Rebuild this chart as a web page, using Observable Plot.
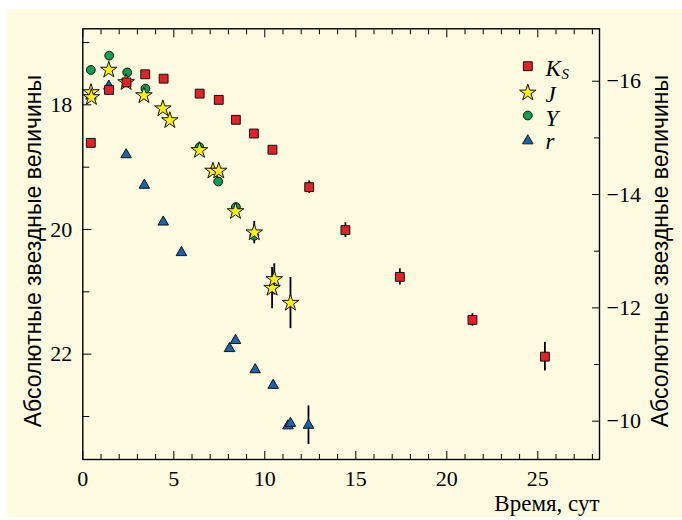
<!DOCTYPE html>
<html><head><meta charset="utf-8">
<script src="https://cdn.jsdelivr.net/npm/d3@7"></script>
<script src="https://cdn.jsdelivr.net/npm/@observablehq/plot@0.6"></script>
<style>
html,body{margin:0;padding:0;background:#fff;}
#wrap{position:relative;width:682px;height:520px;overflow:hidden;}
#bg{position:absolute;left:7px;top:9px;right:0;bottom:3px;background:#fefbe1;}
#chart{position:absolute;left:0;top:0;}
#chart g[aria-label$="tick label"], #chart g[aria-label$="tick label"] text{font-family:'Liberation Serif','Times New Roman',serif !important;font-size:22px !important;}
</style></head><body>
<div id="wrap"><div id="bg"></div><div id="chart"></div></div>
<script>
// ---- data ----
const ksDay = [0.44, 1.44, 2.40, 3.43, 4.44, 6.42, 7.47, 8.41, 9.40, 10.42, 12.44, 14.43, 17.42, 21.41, 25.39];
const ksMag = [18.61, 17.76, 17.64, 17.51, 17.58, 17.82, 17.92, 18.24, 18.46, 18.72, 19.32, 20.01, 20.76, 21.45, 22.04];
const ksErr = [0, 0, 0, 0, 0, 0, 0, 0, 0, 0, 0.10, 0.12, 0.13, 0.10, 0.23];

const jDay = [0.45, 0.47, 1.43, 2.38, 3.36, 4.40, 4.78, 6.41, 7.15, 7.47, 8.39, 9.42, 10.40, 10.52, 11.41];
const jMag = [17.80, 17.88, 17.44, 17.64, 17.85, 18.06, 18.25, 18.73, 19.06, 19.06, 19.71, 20.05, 20.94, 20.80, 21.18];
const jErr = [0, 0, 0, 0, 0, 0, 0, 0, 0, 0, 0, 0.18, 0.33, 0.25, 0.41];

const yDay = [0.44, 1.45, 2.44, 3.44, 6.41, 7.44, 8.41, 9.42];
const yMag = [17.44, 17.21, 17.48, 17.74, 18.68, 19.23, 19.64, 20.10];

const rDay = [1.43, 2.38, 3.38, 4.42, 5.42, 8.06, 8.39, 9.47, 10.46, 11.27, 11.41, 12.40];
const rMag = [17.70, 18.80, 19.29, 19.88, 20.37, 21.91, 21.78, 22.25, 22.50, 23.15, 23.11, 23.14];
const rErr = [0, 0, 0, 0, 0, 0, 0, 0, 0, 0, 0, 0.31];

const seriesNames = ["K", "J", "Y", "r"];
const seriesSub = "S";
const xTitle = "Время, сут";
const yTitle = "Абсолютные звездные величины";

const xMajor = [0, 5, 10, 15, 20, 25];
const xMinor = d3.range(1, 29).filter(d => d % 5 !== 0);
const yMajor = [18, 20, 22];
const yMinor = [17, 19, 21, 23];
const rightMajor = [-16, -14, -12, -10];
const rightMinor = [-15, -13, -11];

const xDomain = [0, 28.39];
const leftDomain = [16.78, 23.69];
const rightDomain = [-16.925, -9.324];

// ---- build ----
const serif = "'Liberation Serif', 'Times New Roman', serif";
const sans = "'Liberation Sans', Arial, sans-serif";
const toLeft = d3.scaleLinear(rightDomain, leftDomain);
const rows = (days, mags, errs) => days.map((d, i) => ({day: d, mag: mags[i], err: errs ? errs[i] : 0}));
const ks = rows(ksDay, ksMag, ksErr);
const jj = rows(jDay, jMag, jErr);
const yy = rows(yDay, yMag);
const rr = rows(rDay, rMag, rErr);
const errs = [...ks, ...jj, ...rr].filter(d => d.err > 0);

const col = {K: "#e42028", J: "#fff200", Y: "#07a050", r: "#1466b3"};
const sym = {K: "square", J: "star", Y: "circle", r: "triangle"};
const rad = {K: 5.0, J: 5.2, Y: 4.4, r: 3.9};
const stroke = "#111";

const dots = (data, k) => Plot.dot(data, {x: "day", y: "mag", symbol: sym[k], r: rad[k], fill: col[k], stroke, strokeWidth: 1});

const legendDy = [37.4, 64, 86.7, 112];
const legendTextDy = [31, 56.5, 80.5, 104];
const legend = seriesNames.flatMap((k, i) => [
  Plot.dot([k], {frameAnchor: "top-right", dx: -71.7, dy: legendDy[i], symbol: sym[k], r: rad[k], fill: col[k], stroke, strokeWidth: 1}),
  Plot.text([k], {frameAnchor: "top-right", dx: -54, dy: legendTextDy[i], text: d => d, textAnchor: "start", lineAnchor: "top", fontSize: 23, fontStyle: "italic", fontFamily: serif, fill: "black"})
]);

const ax = {fontFamily: serif, fontSize: 22, label: null};

const chart = Plot.plot({
  width: 682, height: 520,
  marginLeft: 82.3, marginRight: 83, marginTop: 28.3, marginBottom: 61,
  style: {background: "transparent", fontFamily: serif, overflow: "visible"},
  x: {domain: xDomain, label: null},
  y: {domain: leftDomain, reverse: true, label: null},
  marks: [
    // x axes (bottom with labels, top mirrored)
    Plot.axisX({...ax, ticks: xMinor, anchor: "bottom", tickSize: -5, tickFormat: () => ""}),
    Plot.axisX({...ax, ticks: xMajor, anchor: "bottom", tickSize: -8, tickPadding: 19, tickFormat: d => String(d)}),
    Plot.axisX({...ax, ticks: xMinor, anchor: "top", tickSize: -5, tickFormat: () => ""}),
    Plot.axisX({...ax, ticks: xMajor, anchor: "top", tickSize: -8, tickFormat: () => ""}),
    // left axis
    Plot.axisY({...ax, ticks: yMinor, anchor: "left", tickSize: -7, tickFormat: () => ""}),
    Plot.axisY({...ax, ticks: yMajor, anchor: "left", tickSize: -9, tickPadding: 19.6, tickFormat: d => String(d)}),
    // right axis (different scale)
    Plot.axisY({...ax, ticks: rightMinor.map(toLeft), anchor: "right", tickSize: -6, tickFormat: () => ""}),
    Plot.axisY({...ax, ticks: rightMajor.map(toLeft), anchor: "right", tickSize: -8, tickPadding: 15,
      tickFormat: d => "\u2212" + Math.abs(Math.round(toLeft.invert(d)))}),
    // error bars
    Plot.ruleX(errs, {x: "day", y1: d => d.mag - d.err, y2: d => d.mag + d.err, stroke: "black", strokeWidth: 1.8}),
    // series
    dots(rr, "r"),
    dots(yy, "Y"),
    dots(jj, "J"),
    dots(ks, "K"),
    // legend
    ...legend,
    Plot.text([seriesSub], {frameAnchor: "top-right", dx: -38, dy: 40, text: d => d, textAnchor: "start", lineAnchor: "top", fontSize: 15, fontStyle: "italic", fontFamily: serif, fill: "black"}),
    // titles
    Plot.text([yTitle], {frameAnchor: "left", dx: -49, dy: 7, rotate: -90, text: d => d, textAnchor: "middle", lineAnchor: "middle", fontSize: 23, fontFamily: sans, fill: "black"}),
    Plot.text([yTitle], {frameAnchor: "right", dx: 61, dy: 7, rotate: -90, text: d => d, textAnchor: "middle", lineAnchor: "middle", fontSize: 23, fontFamily: sans, fill: "black"}),
    Plot.text([xTitle], {frameAnchor: "bottom-right", dx: 0, dy: 51, text: d => d, textAnchor: "end", lineAnchor: "bottom", fontSize: 23, fontFamily: serif, fill: "black"}),
    Plot.frame({stroke: "black", strokeWidth: 1.4})
  ]
});
document.getElementById("chart").appendChild(chart);
</script>
</body></html>
